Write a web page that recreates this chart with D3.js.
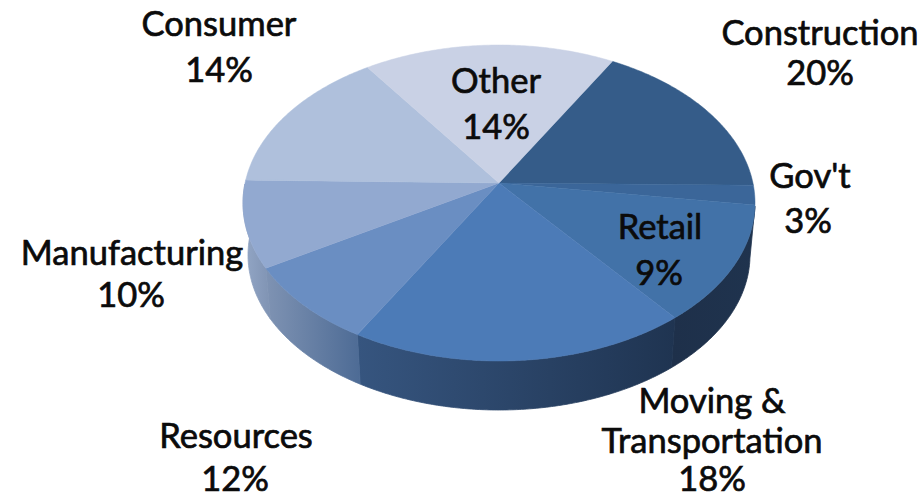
<!DOCTYPE html>
<html>
<head>
<meta charset="utf-8">
<style>
html,body{margin:0;padding:0;background:#fff;}
svg{display:block;}
text{font-family:Lato,"Open Sans",sans-serif;font-size:34.5px;fill:#0b0b0b;stroke:#0b0b0b;stroke-width:.7px;text-anchor:middle;}
</style>
<script src="https://cdn.jsdelivr.net/npm/d3@7/dist/d3.min.js"></script>
</head>
<body>
<script>
// Data: printed categories and labels, plus each slice's rim share as drawn in the picture
const categories = ["Construction","Gov't","Retail","Moving & Transportation","Resources","Manufacturing","Consumer","Other"];
const labelPercents = [20,3,9,18,12,10,14,14];
const drawnShares = [15.9,2.0,12.75,21.4,8.9,9.1,14.1,15.9];

// Styles
const topColors = ["#355c89","#3b6699","#4272a8","#4c7bb7","#6a8ec2","#92a9d0","#afc0dc","#c9d1e5"];
const wallStops = [
  ["#1d2f49","#1d2f49"],["#1d2f49","#1d2f49"],["#1e304a","#1f334e"],
  ["#36557f","#1f3451"],["#7f93b3","#4d6b95"],["#94a7c6","#7f93b3"],["#b0c0db","#b0c0db"],["#c9d1e5","#c9d1e5"]
];
const labelLines = [
  [{t:"Construction",x:820,y:45},{t:percentText(0),x:820,y:85}],
  [{t:"Gov't",x:810,y:188},{t:percentText(1),x:808,y:233}],
  [{t:"Retail",x:660,y:239},{t:percentText(2),x:659,y:285}],
  [{t:"Moving &",x:712,y:413},{t:"Transportation",x:712,y:453},{t:percentText(3),x:712,y:491}],
  [{t:"Resources",x:236,y:448},{t:percentText(4),x:235,y:491}],
  [{t:"Manufacturing",x:132,y:265},{t:percentText(5),x:131,y:307}],
  [{t:"Consumer",x:219,y:36},{t:percentText(6),x:219,y:82}],
  [{t:"Other",x:496,y:93},{t:percentText(7),x:496,y:139}]
];
function percentText(i){return labelPercents[i]+"%";}

const W=923,H=499;
const svg=d3.select("body").append("svg").attr("width",W).attr("height",H);
const defs=svg.append("defs");

// Projection of the unit rim: top face, and the smaller far-side base ellipse
const xTop=d3.scaleLinear().domain([-1,1]).range([243,755]);
const yTop=d3.scaleLinear().domain([-1,1]).range([45,361]);
const xBase=d3.scaleLinear().domain([-1,1]).range([248,750]);
const yBase=d3.scaleLinear().domain([-1,1]).range([100,410]);
const apex=[499,183];

const startAngle=26.3*Math.PI/180;
const arcs=d3.pie().sort(null).value(d=>d)
  .startAngle(startAngle).endAngle(startAngle+2*Math.PI)(drawnShares);

function samples(a0,a1){
  const n=Math.max(2,Math.ceil((a1-a0)/0.01));
  return d3.range(n+1).map(i=>a0+(a1-a0)*i/n);
}
const line=d3.line();
const rimTop=a=>[xTop(Math.sin(a)),yTop(-Math.cos(a))];
const rimBase=a=>[xBase(Math.sin(a)),yBase(-Math.cos(a))];

// Walls (only the front half of the rim is visible)
const frontFrom=Math.PI/2+0.02, frontTo=Math.PI*3/2+0.12;
arcs.forEach((d,i)=>{
  const a0=Math.max(d.startAngle,frontFrom), a1=Math.min(d.endAngle,frontTo);
  if(a1<=a0) return;
  const top=samples(a0,a1).map(rimTop), base=samples(a0,a1).map(rimBase).reverse();
  const xs=top.concat(base).map(p=>p[0]);
  const g=defs.append("linearGradient").attr("id","wall"+i)
    .attr("gradientUnits","userSpaceOnUse")
    .attr("x1",d3.min(xs)).attr("x2",d3.max(xs)).attr("y1",0).attr("y2",0);
  g.append("stop").attr("offset",0).attr("stop-color",wallStops[i][0]);
  g.append("stop").attr("offset",1).attr("stop-color",wallStops[i][1]);
  svg.append("path").attr("d",line(top.concat(base))+"Z")
    .attr("fill","url(#wall"+i+")").attr("stroke","url(#wall"+i+")").attr("stroke-width",.8);
});

// Top face
svg.append("g").selectAll("path").data(arcs).join("path")
  .attr("d",d=>line([apex].concat(samples(d.startAngle,d.endAngle).map(rimTop)))+"Z")
  .attr("fill",(d,i)=>topColors[i])
  .attr("stroke",(d,i)=>topColors[i]).attr("stroke-width",.5);

// Labels
const lab=svg.append("g");
categories.forEach((c,i)=>{
  labelLines[i].forEach(l=>{
    lab.append("text").attr("x",l.x).attr("y",l.y).text(l.t);
  });
});
</script>
</body>
</html>
